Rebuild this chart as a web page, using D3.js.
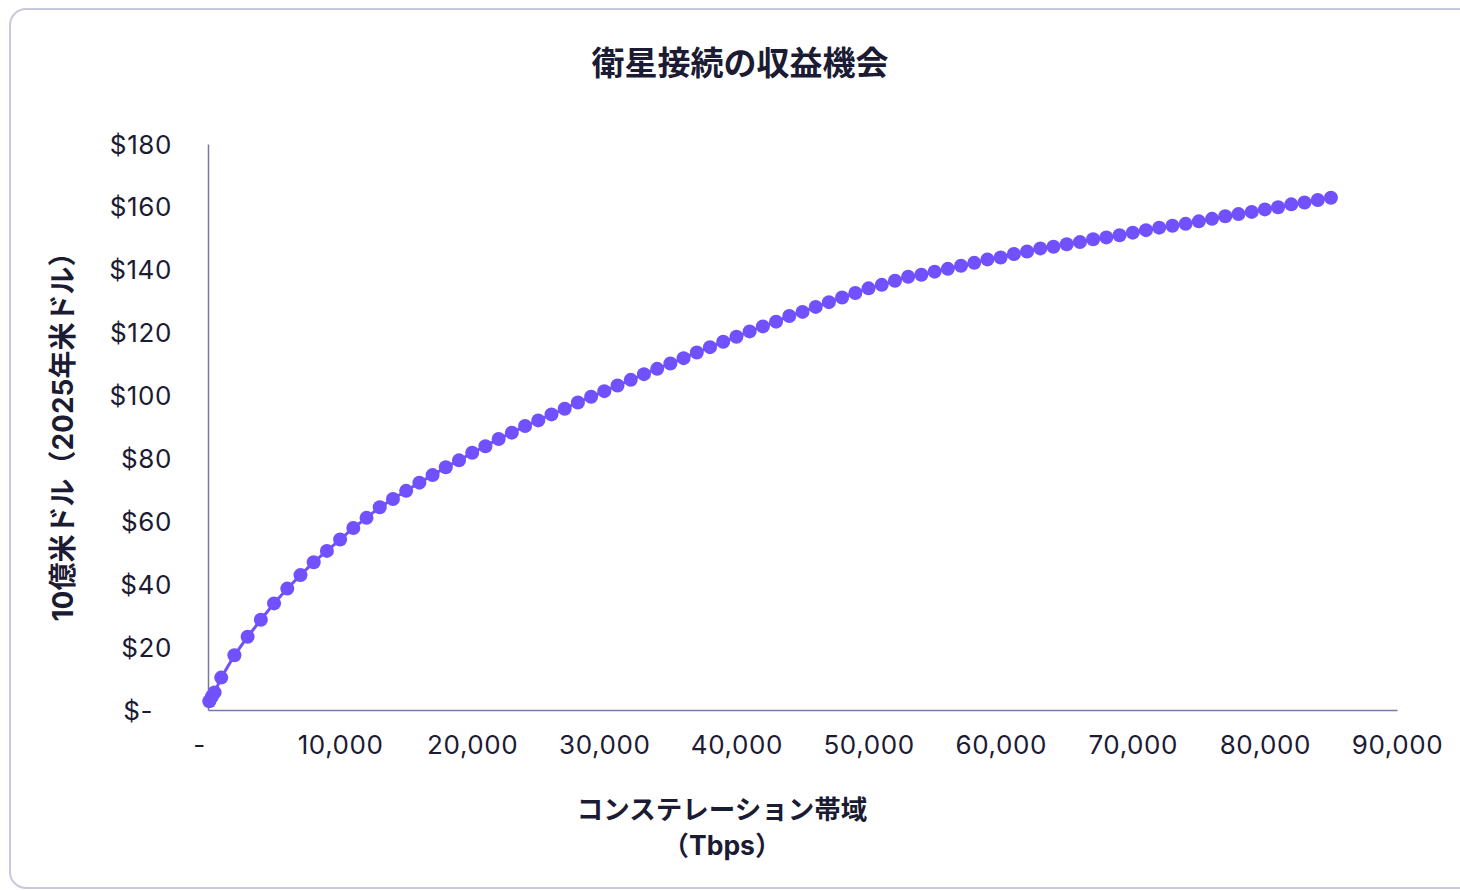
<!DOCTYPE html>
<html>
<head>
<meta charset="utf-8">
<script src="https://cdn.jsdelivr.net/npm/d3@7"></script>
<style>
  html, body { margin: 0; padding: 0; background: #fff; }
  svg { display: block; }
</style>
</head>
<body>
<svg id="my_svg"></svg>
<script>
const width = 1460;
const height = 890;

// データ
const bandwidth = [
    100, 300, 500,
    1000, 2000, 3000, 4000, 5000, 6000, 7000, 8000, 9000, 10000,
    11000, 12000, 13000, 14000, 15000, 16000, 17000, 18000, 19000, 20000,
    21000, 22000, 23000, 24000, 25000, 26000, 27000, 28000, 29000, 30000,
    31000, 32000, 33000, 34000, 35000, 36000, 37000, 38000, 39000, 40000,
    41000, 42000, 43000, 44000, 45000, 46000, 47000, 48000, 49000, 50000,
    51000, 52000, 53000, 54000, 55000, 56000, 57000, 58000, 59000, 60000,
    61000, 62000, 63000, 64000, 65000, 66000, 67000, 68000, 69000, 70000,
    71000, 72000, 73000, 74000, 75000, 76000, 77000, 78000, 79000, 80000,
    81000, 82000, 83000, 84000, 85000
];
const revenue = [
    2.8, 4.3, 5.6,
    10.3, 17.4, 23.3, 28.7, 33.9, 38.6, 42.9, 47.0, 50.6, 54.2,
    57.9, 61.1, 64.5, 67.1, 69.7, 72.3, 74.7, 77.2, 79.4, 81.8,
    83.9, 86.2, 88.2, 90.3, 92.1, 94.0, 95.8, 97.8, 99.6, 101.4,
    103.2, 105.0, 106.8, 108.5, 110.2, 111.9, 113.7, 115.4, 117.1, 118.7,
    120.4, 122.0, 123.5, 125.3, 126.6, 128.2, 129.7, 131.2, 132.6, 134.1,
    135.2, 136.5, 137.8, 138.4, 139.4, 140.3, 141.3, 142.2, 143.3, 143.9,
    145.0, 145.8, 146.8, 147.3, 148.1, 148.8, 149.7, 150.3, 151.0, 151.8,
    152.6, 153.4, 154.0, 154.6, 155.4, 156.2, 157.0, 157.7, 158.4, 159.2,
    159.9, 160.8, 161.4, 162.2, 162.9
];
const xTicks = [0, 10000, 20000, 30000, 40000, 50000, 60000, 70000, 80000, 90000];
const yTicks = [0, 20, 40, 60, 80, 100, 120, 140, 160, 180];

const title = '衛星接続の収益機会';
const yTitle = '10億米ドル（2025年米ドル）';
const xTitle = ['コンステレーション帯域', '（Tbps）'];

const points = bandwidth.map((b, i) => ({ x: b, y: revenue[i] }));

const fontFamily = 'Inter, "Noto Sans CJK JP", sans-serif';
const textColor = '#1b1b33';
const axisColor = '#7579a3';
const dotColor = '#7150fe';

const svg = d3.select('#my_svg')
    .attr('width', width)
    .attr('height', height);

// 外枠
svg.append('rect')
    .attr('x', 10)
    .attr('y', 9)
    .attr('width', 1480)
    .attr('height', 879)
    .attr('rx', 16)
    .attr('fill', '#fff')
    .attr('stroke', '#c9c9dd')
    .attr('stroke-width', 2);

const x = d3.scaleLinear().domain([0, 90000]).range([208, 1397]);
const y = d3.scaleLinear().domain([0, 180]).range([710, 144]);

// y軸
const yAxis = svg.append('g')
    .attr('transform', `translate(${x(0)},0)`)
    .call(d3.axisLeft(y)
        .tickValues(yTicks)
        .tickSize(0)
        .tickSizeOuter(0)
        .tickPadding(36)
        .tickFormat(d => d === 0 ? '$-' : '$' + d));
yAxis.select('.domain').attr('stroke', axisColor).attr('stroke-width', 1.5);
yAxis.selectAll('text')
    .attr('font-family', fontFamily)
    .attr('font-size', 26)
    .attr('letter-spacing', 0.6)
    .attr('fill', textColor)
    .attr('dy', '0.35em')
    .attr('dx', d => d === 0 ? -19 : 0);

// x軸
const xAxis = svg.append('g')
    .attr('transform', `translate(0,${y(0)})`)
    .call(d3.axisBottom(x)
        .tickValues(xTicks)
        .tickSize(0)
        .tickSizeOuter(0)
        .tickPadding(35)
        .tickFormat(d => d === 0 ? '-' : d3.format(',')(d)));
xAxis.select('.domain').attr('stroke', axisColor).attr('stroke-width', 1.5);
xAxis.selectAll('text')
    .attr('font-family', fontFamily)
    .attr('font-size', 26)
    .attr('letter-spacing', 0.6)
    .attr('fill', textColor)
    .attr('dy', '0.35em')
    .attr('dx', d => d === 0 ? -9 : 0);

// 線とマーカー
const line = d3.line()
    .x(d => x(d.x))
    .y(d => y(d.y));

svg.append('path')
    .datum(points)
    .attr('d', line)
    .attr('fill', 'none')
    .attr('stroke', dotColor)
    .attr('stroke-width', 3);

svg.append('g')
    .selectAll('circle')
    .data(points)
    .enter().append('circle')
    .attr('cx', d => x(d.x))
    .attr('cy', d => y(d.y))
    .attr('r', 7)
    .attr('fill', dotColor);

// タイトル
svg.append('text')
    .attr('x', 740)
    .attr('y', 75)
    .attr('text-anchor', 'middle')
    .attr('font-family', fontFamily)
    .attr('font-size', 33)
    .attr('font-weight', 'bold')
    .attr('fill', textColor)
    .text(title);

// y軸タイトル
svg.append('text')
    .attr('transform', 'translate(73,430) rotate(-90)')
    .attr('text-anchor', 'middle')
    .attr('font-family', fontFamily)
    .attr('font-size', 28)
    .attr('font-weight', 'bold')
    .attr('fill', textColor)
    .text(yTitle);

// x軸タイトル
svg.append('text')
    .attr('text-anchor', 'middle')
    .attr('font-family', fontFamily)
    .attr('font-size', 26.5)
    .attr('font-weight', 'bold')
    .attr('fill', textColor)
    .selectAll('tspan')
    .data(xTitle)
    .enter().append('tspan')
    .attr('x', 722)
    .attr('y', (d, i) => 819 + i * 36)
    .text(d => d);
</script>
</body>
</html>
